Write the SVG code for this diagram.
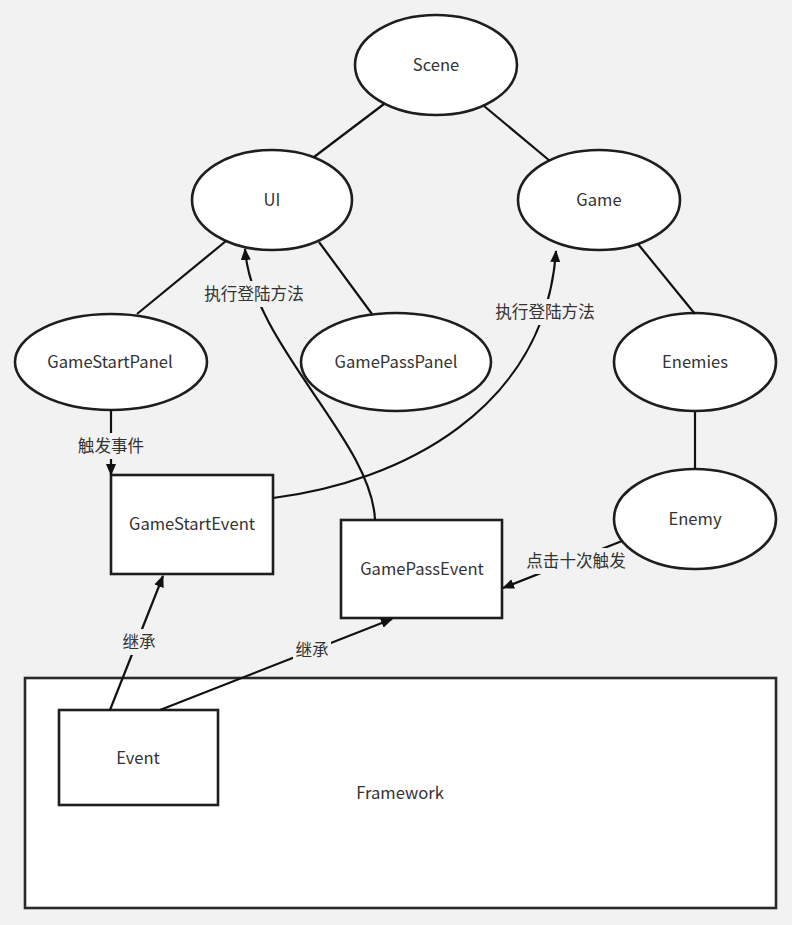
<svg xmlns="http://www.w3.org/2000/svg" width="792" height="925" viewBox="0 0 792 925">
  <defs>
    <marker id="arrow" viewBox="0 0 12 10" refX="11" refY="5" markerWidth="12" markerHeight="10" markerUnits="userSpaceOnUse" orient="auto">
      <path d="M0,0 L12,5 L0,10 Z" fill="#111"/>
    </marker>
    <style>
      .node { fill: #ffffff; stroke: #1e1e1e; stroke-width: 2.6; }
      .frame { fill: #ffffff; stroke: #2a2a2a; stroke-width: 2.6; }
      .txt { font-family: "Noto Sans CJK SC", "Noto Sans", "Liberation Sans", sans-serif; font-size: 16.6px; fill: #333333; text-anchor: middle; dominant-baseline: central; }
      .edge { fill: none; stroke: #111111; stroke-width: 2.2; }
      .arr { marker-end: url(#arrow); }
      .lbg { fill: #f2f2f2; }
    </style>
  </defs>
  <rect x="0" y="0" width="792" height="925" fill="#f2f2f2"/>

  <g id="framework">
    <rect class="frame" x="25" y="678" width="751" height="230"/>
    <text class="txt" x="400" y="792">Framework</text>
  </g>

  <g id="nodes">
    <g id="scene">
      <ellipse class="node" cx="436" cy="65" rx="81" ry="50"/>
      <text class="txt" x="436" y="64">Scene</text>
    </g>
    <g id="ui">
      <ellipse class="node" cx="272" cy="200" rx="80" ry="50"/>
      <text class="txt" x="272" y="199">UI</text>
    </g>
    <g id="game">
      <ellipse class="node" cx="599" cy="200" rx="81" ry="50"/>
      <text class="txt" x="599" y="199">Game</text>
    </g>
    <g id="gamestartpanel">
      <ellipse class="node" cx="111" cy="362" rx="96" ry="48"/>
      <text class="txt" x="110" y="361">GameStartPanel</text>
    </g>
    <g id="gamepasspanel">
      <ellipse class="node" cx="396" cy="362" rx="95" ry="49"/>
      <text class="txt" x="396" y="361">GamePassPanel</text>
    </g>
    <g id="enemies">
      <ellipse class="node" cx="695" cy="362" rx="81" ry="49"/>
      <text class="txt" x="695" y="361">Enemies</text>
    </g>
    <g id="enemy">
      <ellipse class="node" cx="695" cy="519" rx="81" ry="50"/>
      <text class="txt" x="695" y="518">Enemy</text>
    </g>
    <g id="gamestartevent">
      <rect class="node" x="111" y="475" width="162" height="99"/>
      <text class="txt" x="192" y="523">GameStartEvent</text>
    </g>
    <g id="gamepassevent">
      <rect class="node" x="341" y="520" width="161" height="98"/>
      <text class="txt" x="422" y="568">GamePassEvent</text>
    </g>
    <g id="event">
      <rect class="node" x="59" y="710" width="159" height="95"/>
      <text class="txt" x="138" y="757">Event</text>
    </g>
  </g>

  <g id="connectors">
    <line class="edge" x1="384" y1="104" x2="314" y2="157"/>
    <line class="edge" x1="484" y1="106" x2="550" y2="161"/>
    <line class="edge" x1="226" y1="241" x2="137" y2="314"/>
    <line class="edge" x1="319" y1="242" x2="372" y2="314"/>
    <line class="edge" x1="638" y1="244" x2="695" y2="314"/>
    <line class="edge" x1="695" y1="412" x2="695" y2="469"/>

    <path class="edge arr" d="M111,410 L111,475"/>
    <path class="edge arr" d="M375,520 C372,440 252,345 245,249"/>
    <path class="edge arr" d="M273,498 C400,482 545,410 556,251"/>
    <path class="edge arr" d="M622,541 L503,588"/>
    <path class="edge arr" d="M110,710 L163,576"/>
    <path class="edge arr" d="M160,710 L392,619"/>
  </g>

  <g id="labels">
    <rect class="lbg" x="76" y="433" width="70" height="26"/>
    <text class="txt" x="111" y="445">触发事件</text>
    <rect class="lbg" x="203" y="281" width="102" height="26"/>
    <text class="txt" x="254" y="293">执行登陆方法</text>
    <rect class="lbg" x="494" y="299" width="102" height="26"/>
    <text class="txt" x="545" y="311">执行登陆方法</text>
    <rect class="lbg" x="525" y="548" width="96" height="26"/>
    <text class="txt" x="576" y="560">点击十次触发</text>
    <rect class="lbg" x="120" y="629" width="38" height="26"/>
    <text class="txt" x="139" y="641">继承</text>
    <rect class="lbg" x="293" y="637" width="38" height="26"/>
    <text class="txt" x="312" y="649">继承</text>
  </g>
</svg>
